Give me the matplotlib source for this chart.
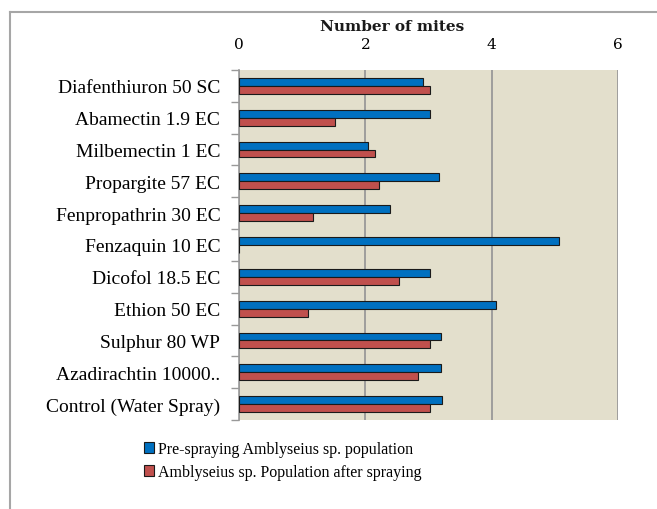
import matplotlib.pyplot as plt
import numpy as np
from matplotlib.patches import Patch

# treatments (top to bottom as shown)
treatments = ['Diafenthiuron 50 SC', 'Abamectin 1.9 EC', 'Milbemectin 1 EC',
              'Propargite 57 EC', 'Fenpropathrin 30 EC', 'Fenzaquin 10 EC',
              'Dicofol 18.5 EC', 'Ethion 50 EC', 'Sulphur 80 WP',
              'Azadirachtin 10000..', 'Control (Water Spray)']
pre_spray = [2.92, 3.02, 2.05, 3.16, 2.39, 5.06, 3.02, 4.07, 3.19, 3.19, 3.21]
post_spray = [3.02, 1.52, 2.16, 2.22, 1.17, 0.0, 2.53, 1.09, 3.02, 2.84, 3.02]

plt.rcParams['font.family'] = ['Liberation Serif', 'DejaVu Serif']

fig = plt.figure(figsize=(6.57, 5.10), dpi=100)
W, H = 657, 510

# outer frame lines (top and left)
fig.add_artist(plt.Line2D([10 / W, 1], [1 - 13 / H, 1 - 13 / H], color='#a6a6a6', lw=1.5))
fig.add_artist(plt.Line2D([10 / W, 10 / W], [0, 1 - 13 / H], color='#a6a6a6', lw=1.5))

ax = fig.add_axes([239 / W, 1 - 421 / H, (618 - 239) / W, (421 - 71) / H])
ax.set_facecolor('#e3dfcc')

y = np.arange(len(treatments))
h = 0.25
ax.barh(y - h / 2, pre_spray, height=h, color='#0070c0', edgecolor='#1a1a1a', lw=0.8, zorder=3)
ax.barh(y + h / 2, post_spray, height=h, color='#c0504d', edgecolor='#1a1a1a', lw=0.8, zorder=3)

ax.set_xlim(0, 6)
ax.set_ylim(len(treatments) - 0.5, -0.5)
ax.xaxis.tick_top()
ax.set_xticks([0, 2, 4, 6])
ax.set_xticklabels(['0', '2', '4', '6'], fontsize=11, family='DejaVu Serif')
ax.tick_params(axis='x', length=0, pad=14)
ax.grid(axis='x', color='#999999', lw=1.3, zorder=1)

# axis title sits left of the axes centre, as in the source
fig.text(392 / W, 1 - 27 / H, 'Number of mites', ha='center', va='center',
         fontsize=11, fontweight='bold', family='DejaVu Serif', color='#1a1a1a')

ax.set_yticks(y)
ax.set_yticklabels(treatments, fontsize=14)
ax.set_yticks(np.arange(len(treatments) + 1) - 0.5, minor=True)
ax.tick_params(axis='y', which='major', length=0, pad=13.5)
ax.tick_params(axis='y', which='minor', length=6, color='#999999', width=1)

for s in ['top', 'right', 'bottom']:
    ax.spines[s].set_visible(False)
ax.spines['left'].set_color('#999999')
ax.spines['left'].set_linewidth(1.2)

handles = [Patch(facecolor='#0070c0', edgecolor='#1a1a1a', lw=0.8),
           Patch(facecolor='#c0504d', edgecolor='#1a1a1a', lw=0.8)]
fig.legend(handles, ['Pre-spraying Amblyseius sp. population',
                     'Amblyseius sp. Population after spraying'],
           loc='upper left', bbox_to_anchor=(144 / W, 1 - 442 / H), frameon=False,
           fontsize=11.5, handlelength=0.65, handleheight=0.65, handletextpad=0.25,
           labelspacing=0.45, borderaxespad=0, borderpad=0)

fig.savefig('out.png', dpi=100)
